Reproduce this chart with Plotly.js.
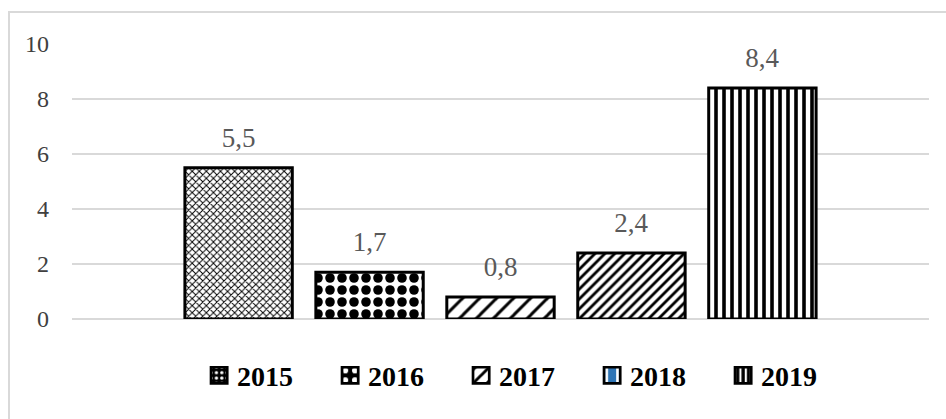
<!DOCTYPE html>
<html>
<head>
<meta charset="utf-8">
<script src="https://cdn.plot.ly/plotly-3.0.1.min.js"></script>
<style>
  html, body { margin: 0; padding: 0; background: #fff; }
  #wrap { position: relative; width: 946px; height: 419px; overflow: hidden; }
  #frame { position: absolute; left: 8px; top: 11px; width: 960px; height: 430px;
           border-left: 2px solid #d9d9d9; border-top: 2px solid #d9d9d9; box-sizing: border-box; pointer-events: none; }
  #chart { position: absolute; left: 0; top: 0; width: 946px; height: 419px; }
</style>
</head>
<body>
<div id="wrap">
  <div id="chart"></div>
  <div id="frame"></div>
</div>
<script>
const years = ['2015', '2016', '2017', '2018', '2019'];
const values = [5.5, 1.7, 0.8, 2.4, 8.4];
const category = [''];
const yTicks = [0, 2, 4, 6, 8, 10];

const patterns = [
  {shape: 'x', size: 5, solidity: 0.35},
  {shape: '.', size: 12, solidity: 0.5},
  {shape: '/', size: 12, solidity: 0.25},
  {shape: '/', size: 7, solidity: 0.4},
  {shape: '|', size: 8, solidity: 0.45}
];
const legendPatterns = [
  {fill: '#000000', pattern: {shape: '.', size: 5, solidity: 0.3, fgcolor: '#ffffff', bgcolor: '#000000'}},
  {fill: '#000000', pattern: {shape: '.', size: 9, solidity: 0.3, fgcolor: '#ffffff', bgcolor: '#000000'}},
  {fill: '#ffffff', pattern: {shape: '/', size: 9, solidity: 0.3, fgcolor: '#000000', bgcolor: '#ffffff'}},
  {fill: '#2e75b6', pattern: {shape: '|', size: 12, solidity: 0.25, fgcolor: '#ffffff', bgcolor: '#2e75b6'}},
  {fill: '#000000', pattern: {shape: '|', size: 5, solidity: 0.4, fgcolor: '#ffffff', bgcolor: '#000000'}}
];

const serif = 'Liberation Serif, Times New Roman, serif';

const traces = years.map((yr, i) => ({
  type: 'bar',
  name: yr,
  x: category,
  y: [values[i]],
  showlegend: false,
  texttemplate: '%{y:.1f}',
  textposition: 'outside',
  cliponaxis: false,
  textfont: {family: serif, size: 27, color: '#595959'},
  marker: {
    color: '#ffffff',
    line: {color: '#000000', width: 3},
    pattern: Object.assign({fgcolor: '#000000', bgcolor: '#ffffff', fillmode: 'replace'}, patterns[i])
  },
  hoverinfo: 'skip'
}));

// legend entries (drawn on a hidden overlay axis so they do not take bar slots)
years.forEach((yr, i) => {
  traces.push({
    type: 'bar', name: yr, x: category, y: [null],
    xaxis: 'x2', yaxis: 'y2', showlegend: true, hoverinfo: 'skip',
    marker: {
      color: legendPatterns[i].fill,
      line: {color: '#000000', width: 2},
      pattern: Object.assign({fillmode: 'replace'}, legendPatterns[i].pattern)
    }
  });
});

const layout = {
  width: 946, height: 419,
  margin: {l: 72, r: 17, t: 44, b: 100},
  paper_bgcolor: '#ffffff', plot_bgcolor: '#ffffff',
  separators: ', ',
  barmode: 'group',
  bargap: 0.236,
  bargroupgap: 0.18,
  showlegend: true,
  legend: {
    orientation: 'h', x: 0.146, xanchor: 'left', y: -0.115, yanchor: 'top',
    font: {family: serif, size: 28, color: '#000000', weight: 'bold'},
    itemwidth: 30, entrywidth: 86, entrywidthmode: 'pixels', tracegroupgap: 0
  },
  xaxis: {showticklabels: false, ticks: '', showgrid: false, zeroline: false, showline: false, fixedrange: true},
  yaxis: {
    range: [0, 10], tickvals: yTicks, ticks: '',
    showgrid: true, gridcolor: '#d9d9d9', gridwidth: 1.3,
    zeroline: true, zerolinecolor: '#d9d9d9', zerolinewidth: 1.3,
    showline: false,
    ticklabelstandoff: 22,
    tickfont: {family: serif, size: 24, color: '#404040'}
  },
  xaxis2: {overlaying: 'x', visible: false},
  yaxis2: {overlaying: 'y', visible: false, range: [0, 10]}
};

Plotly.newPlot('chart', traces, layout, {displayModeBar: false, staticPlot: true}).then(gd => {
  gd.querySelectorAll('.barlayer g.point text').forEach(t => {
    const tr = t.getAttribute('transform') || '';
    t.setAttribute('transform', 'translate(0,-12) ' + tr);
  });
  gd.querySelectorAll('.legend .legendpoints path').forEach(p => {
    const tr = p.getAttribute('transform') || '';
    p.setAttribute('transform', tr + ' translate(2,0) scale(1.35)');
  });
});
</script>
</body>
</html>
